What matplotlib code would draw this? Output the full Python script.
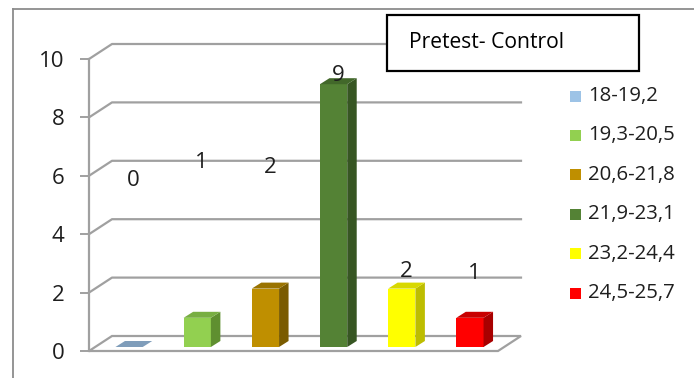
import matplotlib
matplotlib.use('Agg')
import matplotlib.pyplot as plt
from matplotlib.patches import Polygon, Rectangle
from matplotlib.lines import Line2D

# BMI classes (pretest, control group) and number of subjects in each
categories = ['18-19,2', '19,3-20,5', '20,6-21,8', '21,9-23,1', '23,2-24,4', '24,5-25,7']
counts = [0, 1, 2, 9, 2, 1]
title = 'Pretest- Control'

front_colors = ['#9DC3E6', '#92D050', '#BF8F00', '#548235', '#FFFF00', '#FF0000']
side_colors = ['#6F8DAA', '#5F8F30', '#7A5B00', '#375623', '#BDBD00', '#A80000']
top_colors = ['#7F9DBA', '#78AE42', '#9A7300', '#42682A', '#D8D800', '#C80000']
label_y = [5.6, 6.23, 6.06, 9.2, 2.47, 2.43]

FW, FH = 694, 378
GRID = '#A0A0A0'
FONT = 'Open Sans'
TXT = '#1E1E1E'

fig = plt.figure(figsize=(FW / 100, FH / 100), dpi=100)
L, B, W, H = 89 / FW, (FH - 351) / FH, 409 / FW, 292 / FH
ax = fig.add_axes([L, B, W, H])
ax.set_xlim(-0.5, len(categories) - 0.5)
ax.set_ylim(0, 10)

# pixel -> data unit conversion for the fake-3d depth offsets
sx = W * FW / len(categories)
sy = H * FH / 10.0


def px(dx, dy):
    return dx / sx, dy / sy


x0, x1 = -0.5, len(categories) - 0.5
wdx, wdy = px(23, 15)   # depth of the floor / back wall
odx, ody = px(6, 4)     # bar front sits a bit behind the front plane
bdx, bdy = px(9.5, 6)   # bar depth

# back wall gridlines with the short diagonal to the front axis
for v in [2, 4, 6, 8, 10]:
    ax.plot([x0, x0 + wdx, x1 + wdx], [v, v + wdy, v + wdy],
            color=GRID, lw=1.6, clip_on=False, zorder=1)

# floor
floor = Polygon([(x0, 0), (x1, 0), (x1 + wdx, wdy), (x0 + wdx, wdy)],
                closed=True, facecolor='white', edgecolor=GRID, lw=1.6,
                clip_on=False, zorder=1)
ax.add_patch(floor)

# bars: front face, side face, top face
half = 0.2
for i, v in enumerate(counts):
    xl, xr = i - half + odx, i + half + odx
    yb, yt = ody, v + ody
    if v > 0:
        ax.add_patch(Polygon([(xl, yb), (xr, yb), (xr, yt), (xl, yt)],
                             facecolor=front_colors[i], edgecolor='none',
                             clip_on=False, zorder=3))
        ax.add_patch(Polygon([(xr, yb), (xr + bdx, yb + bdy),
                              (xr + bdx, yt + bdy), (xr, yt)],
                             facecolor=side_colors[i], edgecolor='none',
                             clip_on=False, zorder=3))
    ax.add_patch(Polygon([(xl, yt), (xr, yt), (xr + bdx, yt + bdy),
                          (xl + bdx, yt + bdy)],
                         facecolor=top_colors[i], edgecolor='none',
                         clip_on=False, zorder=3))

# value labels
tdx, tdy = px(10.5, 7)
for i, v in enumerate(counts):
    ax.text(i + tdx, label_y[i] + tdy, str(v), ha='center', va='center',
            fontsize=16, family=FONT, color=TXT, zorder=5)

# axes: only the front vertical axis is kept
for s in ['top', 'right', 'bottom']:
    ax.spines[s].set_visible(False)
ax.spines['left'].set_color(GRID)
ax.spines['left'].set_linewidth(1.6)
ax.set_xticks([])
ax.set_yticks([0, 2, 4, 6, 8, 10])
ax.tick_params(axis='y', length=6.5, width=1.4, color=GRID, pad=11,
               labelsize=16, labelcolor=TXT)
for t in ax.get_yticklabels():
    t.set_family(FONT)
ax.patch.set_visible(False)

# legend
for k, (lab, c) in enumerate(zip(categories, front_colors)):
    yk = 96 + k * 39.4
    fig.add_artist(Rectangle((570 / FW, 1 - (yk + 5.5) / FH), 11 / FW, 11 / FH,
                             transform=fig.transFigure, facecolor=c,
                             edgecolor='none'))
    fig.text(588 / FW, 1 - yk / FH, lab, ha='left', va='center',
             fontsize=14.7, family=FONT, color=TXT)

# title box
fig.add_artist(Rectangle((387 / FW, 1 - 71 / FH), 252 / FW, 56 / FH,
                         transform=fig.transFigure, facecolor='white',
                         edgecolor='black', lw=1.6, zorder=10))
fig.text(409 / FW, 1 - 43 / FH, title, ha='left', va='center', fontsize=15.2,
         family=FONT, color='black', zorder=11)

# chart frame (top and left edges)
fig.add_artist(Line2D([13 / FW, 1], [1 - 9 / FH] * 2, transform=fig.transFigure,
                      color='#8C8C8C', lw=1.3))
fig.add_artist(Line2D([13 / FW, 13 / FW], [0, 1 - 9 / FH],
                      transform=fig.transFigure, color='#8C8C8C', lw=1.3))

fig.savefig('out.png', dpi=100)
